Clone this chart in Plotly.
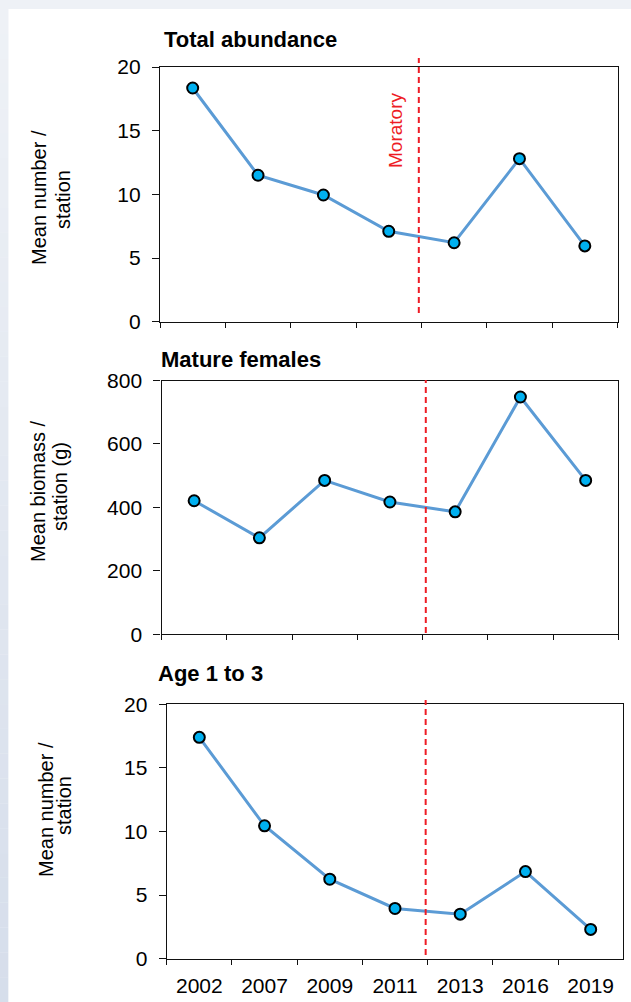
import plotly.graph_objects as go

W, H = 631, 1002

years = ["2002", "2007", "2009", "2011", "2013", "2016", "2019"]
total_abundance = [18.35, 11.5, 9.95, 7.1, 6.2, 12.8, 5.95]
mature_females = [421, 304, 485, 417, 386, 748, 485]
age_1_to_3 = [17.4, 10.45, 6.25, 3.95, 3.5, 6.85, 2.3]

panel_titles = ["Total abundance", "Mature females", "Age 1 to 3"]
y_title_lines = [["Mean number /", "station"],
                 ["Mean biomass /", "station (g)"],
                 ["Mean number /", "station"]]
y_ranges = [[0, 20], [0, 800], [0, 20]]
y_dticks = [5, 200, 5]
moratorium_pos = [3.46, 3.55, 3.47]   # category position between 2011 and 2013
moratorium_label = "Moratory"
series = [total_abundance, mature_females, age_1_to_3]

# panel pixel boxes: (left, right, top, bottom)
boxes = [(160, 617.5, 67, 321.7), (161.5, 618.3, 380.5, 634.3), (166.7, 623.3, 704.3, 958.7)]
title_pos = [(162, 40), (159.5, 360), (156, 673)]
ytitle_pos = [[(39, 198), (63, 199)], [(38, 491), (60, 487)], [(46, 810), (64, 806)]]
dash_span = [(58, 313), (380, 633), (700, 955)]

def px(x):
    return x / W

def py(y):
    return 1 - y / H

FONT = "Liberation Sans, Arial, sans-serif"
LINE_C = "#5b9bd5"
MARK_C = "#00b0f0"
RED = "#ee1c25"
AX_C = "#111111"

fig = go.Figure()
shapes = []
annotations = []

# background: light frame + gradient strip on left + white panel
n_bands = 40
top_rgb = (0xee, 0xf1, 0xf6)
bot_rgb = (0xd6, 0xde, 0xeb)
for i in range(n_bands):
    t = i / (n_bands - 1)
    c = tuple(int(round(top_rgb[k] + (bot_rgb[k] - top_rgb[k]) * t)) for k in range(3))
    y0 = 9 + (H - 9) * i / n_bands
    y1 = 9 + (H - 9) * (i + 1) / n_bands
    shapes.append(dict(type="rect", xref="paper", yref="paper", x0=0, x1=px(8.5),
                       y0=py(y1), y1=py(y0), fillcolor="rgb(%d,%d,%d)" % c,
                       line=dict(width=0), layer="below"))
shapes.append(dict(type="rect", xref="paper", yref="paper", x0=px(8.5), x1=1,
                   y0=0, y1=py(9), fillcolor="white", line=dict(width=0), layer="below"))

for i in range(3):
    n = "" if i == 0 else str(i + 1)
    xa, ya = "x" + n, "y" + n
    l, r, t, b = boxes[i]
    fig.add_trace(go.Scatter(
        x=years, y=series[i], mode="lines+markers", xaxis=xa, yaxis=ya,
        line=dict(color=LINE_C, width=3),
        marker=dict(size=11, color=MARK_C, line=dict(color="black", width=2)),
        showlegend=False, hoverinfo="skip"))
    fig.update_layout(**{
        "xaxis" + n: dict(
            domain=[px(l), px(r)], anchor=ya, type="category",
            categoryorder="array", categoryarray=years,
            range=[-0.5, len(years) - 0.5], automargin=False,
            tickson="boundaries", ticks="outside", ticklen=5, tickwidth=1.3,
            tickcolor=AX_C, showline=True, linecolor=AX_C, linewidth=1.3,
            mirror=True, showgrid=False, zeroline=False,
            showticklabels=(i == 2), ticklabelstandoff=8,
            tickfont=dict(family=FONT, size=21, color="black")),
        "yaxis" + n: dict(
            domain=[py(b), py(t)], anchor=xa, range=y_ranges[i], automargin=False,
            dtick=y_dticks[i], tick0=0, ticks="outside", ticklen=7, tickwidth=1.3,
            tickcolor=AX_C, showline=True, linecolor=AX_C, linewidth=1.3,
            mirror=True, showgrid=False, zeroline=False, ticklabelstandoff=7,
            tickfont=dict(family=FONT, size=21, color="black")),
    })
    # moratorium dashed line
    d0, d1 = dash_span[i]
    shapes.append(dict(type="line", xref=xa, yref="paper",
                       x0=moratorium_pos[i], x1=moratorium_pos[i],
                       y0=py(d1), y1=py(d0),
                       line=dict(color=RED, width=2, dash="6px,4px")))
    # panel title
    tx, ty = title_pos[i]
    annotations.append(dict(xref="paper", yref="paper", x=px(tx), y=py(ty),
                            xanchor="left", yanchor="middle", showarrow=False,
                            text="<b>%s</b>" % panel_titles[i],
                            font=dict(family=FONT, size=22, color="black")))
    # y titles
    for (lx, ly), txt in zip(ytitle_pos[i], y_title_lines[i]):
        annotations.append(dict(xref="paper", yref="paper", x=px(lx), y=py(ly),
                                xanchor="center", yanchor="middle", showarrow=False,
                                textangle=-90, text=txt,
                                font=dict(family=FONT, size=20, color="black")))

annotations.append(dict(xref="paper", yref="paper", x=px(395), y=py(131),
                        xanchor="center", yanchor="middle", showarrow=False,
                        textangle=-90, text=moratorium_label,
                        font=dict(family=FONT, size=19, color=RED)))

fig.update_layout(
    template="none",
    width=W, height=H, autosize=False,
    margin=dict(l=0, r=0, t=0, b=0, pad=0, autoexpand=False),
    paper_bgcolor="#eef1f6", plot_bgcolor="white",
    shapes=shapes, annotations=annotations,
)

post = (
    "var d=document.getElementById('{plot_id}');"
    "var h=document.documentElement, b=document.body;"
    "h.style.margin='0';h.style.padding='0';h.style.overflow='hidden';h.style.height='1002px';"
    "b.style.margin='0';b.style.padding='0';b.style.overflow='hidden';b.style.height='1002px';"
    "d.style.position='fixed';d.style.left='0px';d.style.top='0px';"
)

fig.write_html("out.html", config={"displayModeBar": False}, post_script=post)
